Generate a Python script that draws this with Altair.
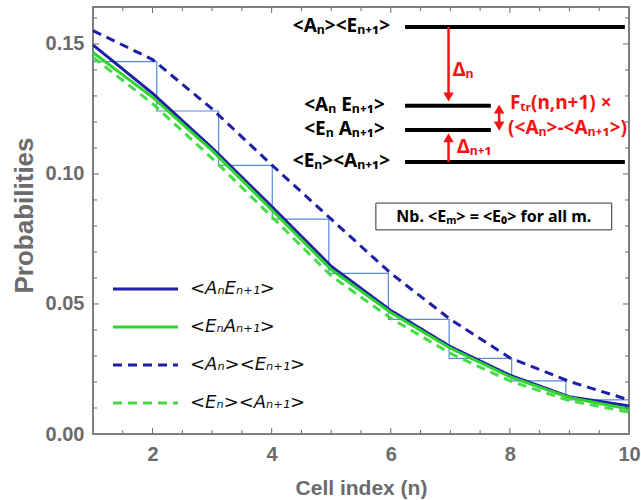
import altair as alt
import pandas as pd

# ---------------- data ----------------
cells = [1, 2, 3, 4, 5, 6, 7, 8, 9, 10]
a_e_joint = [0.1496, 0.1310, 0.1100, 0.0875, 0.0645, 0.0475, 0.0336, 0.0226, 0.0143, 0.0108]
e_a_joint = [0.1467, 0.1295, 0.1090, 0.0862, 0.0632, 0.0467, 0.0330, 0.0220, 0.0140, 0.0096]
a_e_prod = [0.1551, 0.1440, 0.1250, 0.1035, 0.0826, 0.0618, 0.0441, 0.0293, 0.0202, 0.0131]
e_a_prod = [0.1449, 0.1270, 0.1060, 0.0836, 0.0608, 0.0445, 0.0310, 0.0204, 0.0128, 0.0084]

series_names = ["<AₙEₙ₊₁>", "<EₙAₙ₊₁>", "<Aₙ><Eₙ₊₁>", "<Eₙ><Aₙ₊₁>"]
series_values = [a_e_joint, e_a_joint, a_e_prod, e_a_prod]
series_colors = ["#1f1fa6", "#2fd42f", "#1f1fa6", "#45dc45"]
series_dash = [[1, 0], [1, 0], [9, 6], [9, 6]]

stair_steps = [2.07, 3.11, 4.01, 4.96, 5.96, 6.98, 8.03, 8.94]
stair_levels = [0.1432, 0.1242, 0.1033, 0.0826, 0.0618, 0.0441, 0.0291, 0.0204, 0.0131]

x_major = [2, 4, 6, 8, 10]
x_minor = [1.5, 2.5, 3, 3.5, 4.5, 5, 5.5, 6.5, 7, 7.5, 8.5, 9, 9.5]
y_major = [0.0, 0.05, 0.10, 0.15]
y_minor = [0.01, 0.02, 0.03, 0.04, 0.06, 0.07, 0.08, 0.09, 0.11, 0.12, 0.13, 0.14, 0.16]

level_labels = ["<Aₙ><Eₙ₊₁>", "<Aₙ Eₙ₊₁>", "<Eₙ Aₙ₊₁>", "<Eₙ><Aₙ₊₁>"]
level_y = [0.1565, 0.1262, 0.1169, 0.1046]
level_x1 = [6.24, 6.24, 6.24, 6.24]
level_x2 = [9.93, 7.68, 7.68, 9.93]
level_label_x = [5.99, 5.90, 5.90, 5.99]

note_text = "Nb. <Eₘ> = <E₀> for all m."

# ---------------- layout ----------------
W, H = 536, 427
XDOM = [1, 10]
YDOM = [0, 0.1642]
GRAY = "#6b6b6b"
RED = "#f21414"
AFONT = "Noto Sans"
xs = alt.Scale(domain=XDOM, nice=False, zero=False)
ys = alt.Scale(domain=YDOM, nice=False, zero=False)

rows = []
for name, vals in zip(series_names, series_values):
    for c, v in zip(cells, vals):
        rows.append({"series": name, "n": c, "p": v})
lines_df = pd.DataFrame(rows)

# staircase polyline
stair_pts = [{"n": XDOM[0], "p": stair_levels[0]}]
for i, sx in enumerate(stair_steps):
    stair_pts.append({"n": sx, "p": stair_levels[i]})
    stair_pts.append({"n": sx, "p": stair_levels[i + 1]})
stair_pts.append({"n": XDOM[1], "p": stair_levels[-1]})
for k, d in enumerate(stair_pts):
    d["k"] = k
stair_df = pd.DataFrame(stair_pts)

base = alt.Chart(lines_df)

x_axis = alt.Axis(values=x_major, format="d", title="Cell index (n)", labelPadding=10,
                  labelFlush=False, titleY=60, titleBaseline="alphabetic", titleFontSize=21)
y_axis = alt.Axis(values=y_major, format=".2f", title="Probabilities", labelPadding=9,
                  labelFlush=False, titleX=-61, titleY=208, titleBaseline="alphabetic",
                  titleAngle=-90, titleFontSize=26)

X = lambda f: alt.X(f, scale=xs)
Y = lambda f: alt.Y(f, scale=ys)

stairs = alt.Chart(stair_df).mark_line(color="#5b8ad6", strokeWidth=1.2).encode(
    x=alt.X("n:Q", scale=xs, axis=x_axis),
    y=alt.Y("p:Q", scale=ys, axis=y_axis),
    order="k:Q",
)

draw_order = [2, 3, 0, 1]
curve_layers = []
for i in draw_order:
    curve_layers.append(
        base.transform_filter(alt.datum.series == series_names[i]).mark_line(
            color=series_colors[i], strokeDash=series_dash[i], strokeWidth=3
        ).encode(x=X("n:Q"), y=Y("p:Q"))
    )

# inward frame ticks
def xticks(vals, length):
    df = pd.DataFrame({"n": vals})
    b = alt.Chart(df).mark_rule(color=GRAY, strokeWidth=1)
    bottom = b.encode(x=X("n:Q"), y=alt.value(H), y2=alt.value(H - length))
    top = b.encode(x=X("n:Q"), y=alt.value(0), y2=alt.value(length))
    return [bottom, top]

def yticks(vals, length):
    df = pd.DataFrame({"p": vals})
    b = alt.Chart(df).mark_rule(color=GRAY, strokeWidth=1)
    left = b.encode(y=Y("p:Q"), x=alt.value(0), x2=alt.value(length))
    right = b.encode(y=Y("p:Q"), x=alt.value(W), x2=alt.value(W - length))
    return [left, right]

tick_layers = xticks(x_major[:-1], 6) + xticks(x_minor, 4) + yticks(y_major[1:], 6) + yticks(y_minor, 4)

# legend (inside lower-left)
legend_layers = []
for j in range(4):
    py = 282 + 38 * j
    ldf = pd.DataFrame({"s": [series_names[j]]})
    legend_layers.append(
        alt.Chart(ldf).mark_rule(
            color=series_colors[j], strokeDash=series_dash[j], strokeWidth=3
        ).encode(x=alt.value(20), x2=alt.value(85), y=alt.value(py))
    )
    legend_layers.append(
        alt.Chart(ldf).mark_text(
            align="left", baseline="middle", font="DejaVu Sans", fontStyle="oblique",
            fontSize=18, color="#111111"
        ).encode(x=alt.value(97), y=alt.value(py), text="s:N")
    )

# energy-level diagram
lev_df = pd.DataFrame({"lab": level_labels, "p": level_y, "n": level_x1, "n2": level_x2, "lx": level_label_x})
lev_lines = alt.Chart(lev_df).mark_rule(color="black", strokeWidth=4).encode(
    x=X("n:Q"), x2="n2:Q", y=Y("p:Q"))
lev_text = alt.Chart(lev_df).mark_text(
    align="right", baseline="middle", font=AFONT, fontWeight="bold", fontSize=19, color="black", dy=-1
).encode(x=X("lx:Q"), y=Y("p:Q"), text="lab:N")

arr_df = pd.DataFrame({"n": [6.97, 6.97, 7.82], "p": [0.1565, 0.1046, 0.1250], "p2": [0.1296, 0.1139, 0.1184]})
arr_stems = alt.Chart(arr_df).mark_rule(color=RED, strokeWidth=2.5).encode(
    x=X("n:Q"), y=Y("p:Q"), y2="p2:Q")
head_df = pd.DataFrame({"n": [6.97, 6.97, 7.82, 7.82], "p": [0.1296, 0.1139, 0.1250, 0.1184],
                        "shape": ["triangle-down", "triangle-up", "triangle-up", "triangle-down"]})
arr_heads = alt.Chart(head_df).mark_point(filled=True, color=RED, size=110, opacity=1).encode(
    x=X("n:Q"), y=Y("p:Q"),
    shape=alt.Shape("shape:N", scale=None, legend=None))

red_df = pd.DataFrame({"t": ["Δₙ", "Δₙ₊₁", "Fₜᵣ(n,n+1) ×", "(<Aₙ>-<Aₙ₊₁>)"],
                       "n": [7.04, 7.11, 8.0, 7.97], "p": [0.1400, 0.1104, 0.1273, 0.1177]})
red_text = alt.Chart(red_df).mark_text(
    align="left", baseline="middle", font=AFONT, fontWeight="bold", fontSize=19, color=RED
).encode(x=X("n:Q"), y=Y("p:Q"), text="t:N")

box_df = pd.DataFrame({"n": [5.75], "n2": [9.71], "p": [0.0785], "p2": [0.0888], "xc": [7.73], "yc": [0.0836], "t": [note_text]})
note_box = alt.Chart(box_df).mark_rect(fill="white", stroke="#333333", strokeWidth=1).encode(
    x=X("n:Q"), x2="n2:Q", y=Y("p:Q"), y2="p2:Q")
note_txt = alt.Chart(box_df).mark_text(
    align="center", baseline="middle", font=AFONT, fontWeight="bold", fontSize=16, color="black"
).encode(x=X("xc:Q"), y=Y("yc:Q"), text="t:N")

chart = alt.layer(
    stairs, *curve_layers, *tick_layers, *legend_layers,
    lev_lines, lev_text, arr_stems, arr_heads, red_text, note_box, note_txt
).properties(
    width=W, height=H,
    autosize=alt.AutoSizeParams(type="none"),
    padding={"left": 93, "top": 7, "right": 12, "bottom": 66},
).configure_view(
    stroke="#808080", strokeWidth=2
).configure_axis(
    domain=False, ticks=False, grid=False,
    labelFont="Liberation Sans", labelFontWeight="bold", labelFontSize=20, labelColor=GRAY,
    titleFont="Liberation Sans", titleFontWeight="bold", titleFontSize=20, titleColor=GRAY,
)

chart.save("out.html", embed_options={"renderer": "svg", "actions": False})
